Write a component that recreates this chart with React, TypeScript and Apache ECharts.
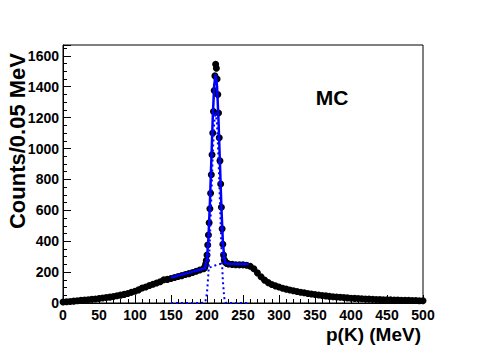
import React, { useEffect, useRef } from "react";
import * as echarts from "echarts";

// Histogram counts
// Left side: bins from 0 MeV, every 5 MeV
const leftStart = 0;
const leftStep = 5;
const leftCounts = [
  6, 8, 10, 12, 14, 17, 19, 21, 24, 26, 29, 32, 35, 38, 42, 47, 51, 56, 62, 69,
  76, 85, 97, 104, 113, 121, 130, 138, 150, 153, 159, 165, 171, 177, 184, 190, 197, 205, 214, 222,
];
// Peak region: bins from 196 MeV, every 1 MeV
const peakStart = 196;
const peakStep = 1;
const peakCounts = [
  225, 232, 250, 275, 310, 375, 440, 520, 610, 710, 830, 960, 1100, 1240, 1375, 1470, 1545,
  1520, 1450, 1350, 1230, 1070, 920, 770, 620, 480, 380, 310, 280, 268, 262, 258, 256, 254,
];
// Right side: bins from 230 MeV, every 5 MeV
const rightStart = 230;
const rightStep = 5;
const rightCounts = [
  252, 250, 248, 247, 247, 244, 238, 222, 195, 170, 148, 132, 120, 111, 103, 96, 90, 84, 79, 74,
  70, 66, 62, 58, 55, 52, 49, 46, 43, 41, 39, 37, 35, 33, 31, 30, 29, 27, 26, 25,
  24, 23, 22, 21, 21, 20, 19, 19, 18, 17, 17, 16, 16, 15, 15,
];

// Fit curves
const fitX = [150, 160, 170, 180, 190, 196, 198, 200, 202, 204, 206, 208, 210, 212, 214, 216, 218, 220, 222, 224, 226, 230, 240, 250, 258];
const fitTotal = [165, 178, 190, 203, 215, 224, 240, 290, 420, 640, 920, 1200, 1410, 1480, 1400, 1180, 900, 620, 400, 290, 258, 254, 253, 253, 252];
const fitBackground = [165, 178, 190, 203, 215, 222, 224, 225, 228, 231, 234, 238, 241, 244, 247, 250, 252, 254, 255, 256, 256, 255, 254, 253, 252];
const fitSignal = [0, 0, 0, 0, 0, 2, 16, 65, 192, 409, 686, 962, 1169, 1236, 1153, 930, 648, 366, 145, 34, 2, 0, 0, 0, 0];

const xTicks = { min: 0, max: 500, interval: 50 };
const yTicks = { min: 0, max: 1670, interval: 200 };

const FONT = '"Liberation Sans", Arial, Helvetica, sans-serif';

function toPoints(start: number, step: number, vals: number[]) {
  return vals.map((v, i) => [start + step * i, v]);
}

export default function App() {
  const ref = useRef<HTMLDivElement>(null);
  useEffect(() => {
    const chart = echarts.init(ref.current!, null, { renderer: "svg" });
    const data = [
      ...toPoints(leftStart, leftStep, leftCounts),
      ...toPoints(peakStart, peakStep, peakCounts),
      ...toPoints(rightStart, rightStep, rightCounts),
    ];
    const zip = (ys: number[]) => fitX.map((x, i) => [x, ys[i]]);
    const axisCommon = {
      axisLine: { show: true, lineStyle: { color: "#000", width: 1 } },
      axisTick: { show: true, inside: true, length: 8, lineStyle: { color: "#000", width: 1 } },
      minorTick: { show: true, length: 4, lineStyle: { color: "#000", width: 1 } },
      splitLine: { show: false },
      minorSplitLine: { show: false },
    };
    const labelCommon = {
      color: "#000",
      fontWeight: "bold",
      fontSize: 14,
      fontFamily: FONT,
      formatter: (v: number) => String(v),
    };
    chart.setOption({
      animation: false,
      backgroundColor: "#fff",
      grid: {
        left: 63,
        right: 62,
        top: 45,
        bottom: 47,
        show: true,
        borderColor: "#000",
        borderWidth: 1,
        backgroundColor: "transparent",
      },
      xAxis: {
        type: "value",
        ...xTicks,
        ...axisCommon,
        minorTick: { ...axisCommon.minorTick, splitNumber: 5 },
        axisLabel: { ...labelCommon, margin: 5 },
      },
      yAxis: {
        type: "value",
        ...yTicks,
        ...axisCommon,
        minorTick: { ...axisCommon.minorTick, splitNumber: 4 },
        axisLabel: { ...labelCommon, margin: 4, showMaxLabel: false },
      },
      series: [
        {
          type: "scatter",
          data,
          symbol: "circle",
          symbolSize: 7,
          itemStyle: { color: "#000", opacity: 1 },
          z: 2,
        },
        {
          type: "line",
          data: zip(fitBackground),
          showSymbol: false,
          lineStyle: { color: "#0000ff", width: 2, type: [2, 3] },
          z: 3,
        },
        {
          type: "line",
          data: zip(fitSignal),
          showSymbol: false,
          lineStyle: { color: "#0000ff", width: 2, type: [2, 3] },
          z: 3,
        },
        {
          type: "line",
          data: zip(fitTotal),
          showSymbol: false,
          lineStyle: { color: "#0000ff", width: 2.5 },
          z: 4,
        },
      ],
      graphic: [
        {
          type: "text",
          x: 332,
          y: 97,
          style: {
            text: "MC",
            font: `bold 21px ${FONT}`,
            fill: "#000",
            textAlign: "center",
            textVerticalAlign: "middle",
          },
        },
        {
          type: "text",
          x: 421,
          y: 334,
          style: {
            text: "p(K) (MeV)",
            font: `bold 19px ${FONT}`,
            fill: "#000",
            textAlign: "right",
            textVerticalAlign: "middle",
          },
        },
        {
          type: "text",
          x: 17,
          y: 141,
          rotation: Math.PI / 2,
          style: {
            text: "Counts/0.05 MeV",
            font: `bold 22px ${FONT}`,
            fill: "#000",
            textAlign: "center",
            textVerticalAlign: "middle",
          },
        },
      ],
    });
    return () => chart.dispose();
  }, []);
  return (
    <div
      ref={ref}
      style={{ position: "absolute", left: 0, top: 0, width: 485, height: 350 }}
    />
  );
}
